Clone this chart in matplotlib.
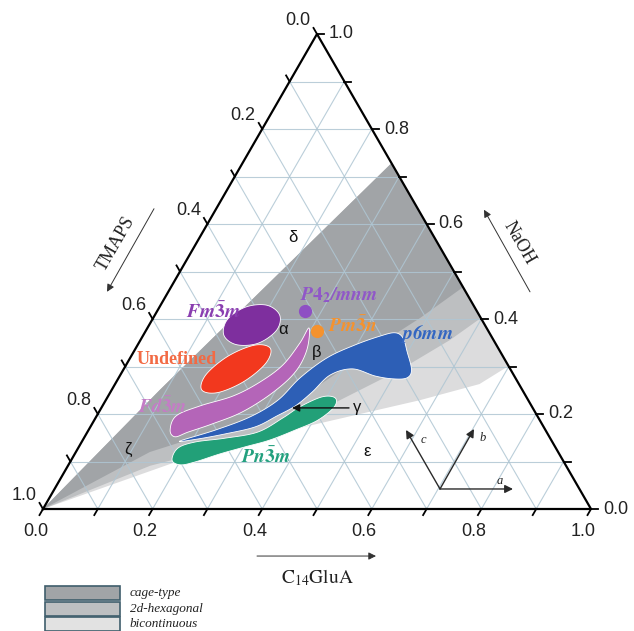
import numpy as np
import matplotlib.pyplot as plt
from matplotlib.patches import Polygon, Rectangle, FancyArrowPatch

plt.rcParams['mathtext.fontset'] = 'stix'

SQ = np.sqrt(3) / 2

# ternary data as (C14GluA, NaOH) pairs, TMAPS = 1 - C14GluA - NaOH
grid_vals = [0.1, 0.2, 0.3, 0.4, 0.5, 0.6, 0.7, 0.8, 0.9]
tick_vals = [0.0, 0.2, 0.4, 0.6, 0.8, 1.0]

# phase region boundaries (fan out from the TMAPS corner)
upper_edge = [(0.0, 0.0), (0.088, 0.251), (0.272, 0.728)]
cage_lower = [(0.0, 0.0), (0.135, 0.120), (0.284, 0.187), (0.374, 0.261), (0.430, 0.335), (0.487, 0.402), (0.533, 0.467)]
hex_lower = [(0.0, 0.0), (0.150, 0.091), (0.305, 0.145), (0.415, 0.219), (0.505, 0.293), (0.565, 0.356), (0.598, 0.402)]
bicont_lower = [(0.0, 0.0), (0.189, 0.097), (0.384, 0.171), (0.573, 0.229), (0.665, 0.263), (0.699, 0.301)]

# mesophase domains
fm3m = [(0.228, 0.408), (0.238, 0.376), (0.218, 0.349), (0.180, 0.346),
        (0.147, 0.366), (0.137, 0.399), (0.157, 0.425), (0.194, 0.429)]
undefined = [(0.246, 0.338), (0.253, 0.306), (0.232, 0.268), (0.196, 0.245),
             (0.164, 0.251), (0.156, 0.283), (0.177, 0.322), (0.214, 0.345)]
fd3m = [(0.295, 0.381), (0.314, 0.335), (0.316, 0.288), (0.296, 0.244), (0.261, 0.204),
        (0.219, 0.179), (0.184, 0.162), (0.165, 0.152), (0.149, 0.166), (0.145, 0.196),
        (0.178, 0.217), (0.228, 0.238), (0.262, 0.267), (0.286, 0.303), (0.294, 0.349)]
p6mm = [(0.178, 0.143), (0.231, 0.166), (0.281, 0.194), (0.314, 0.229), (0.331, 0.276),
        (0.359, 0.318), (0.396, 0.345), (0.433, 0.364), (0.457, 0.371), (0.477, 0.360),
        (0.499, 0.331), (0.526, 0.293), (0.526, 0.276), (0.502, 0.274), (0.466, 0.280),
        (0.417, 0.295), (0.383, 0.282), (0.368, 0.246), (0.352, 0.217), (0.329, 0.196),
        (0.301, 0.173), (0.253, 0.158), (0.207, 0.147)]
pn3m = [(0.184, 0.103), (0.182, 0.128), (0.207, 0.141), (0.257, 0.149), (0.311, 0.162),
        (0.342, 0.192), (0.361, 0.215), (0.391, 0.236), (0.416, 0.234), (0.424, 0.215),
        (0.408, 0.187), (0.377, 0.166), (0.341, 0.145), (0.304, 0.131), (0.265, 0.116),
        (0.228, 0.099), (0.204, 0.093)]
p42mnm_pt = (0.270, 0.417)
pm3n_pt = (0.313, 0.375)


def cart(pts):
    p = np.asarray(pts, dtype=float)
    return np.column_stack([p[:, 0] + p[:, 1] / 2, p[:, 1] * SQ])


def smooth(xy, n=14):
    m = len(xy)
    t = np.linspace(0, 1, n, endpoint=False)[:, None]
    out = []
    for i in range(m):
        p0, p1, p2, p3 = xy[i - 1], xy[i], xy[(i + 1) % m], xy[(i + 2) % m]
        out.append(0.5 * (2 * p1 + (-p0 + p2) * t + (2 * p0 - 5 * p1 + 4 * p2 - p3) * t ** 2
                          + (-p0 + 3 * p1 - 3 * p2 + p3) * t ** 3))
    return np.vstack(out)


def px(x, y):
    # layout helper: figure pixel -> axes data
    return ((x - 43) / 548, (509 - y) / 548)


fig = plt.figure(figsize=(6.34, 6.31), dpi=100)
ax = fig.add_axes([43 / 634, (631 - 509) / 631, 548 / 634, 475 / 631])
ax.set_xlim(0, 1)
ax.set_ylim(0, SQ)
ax.axis('off')

# gray regions
for lower, col in [(bicont_lower, '#dcdcdd'), (hex_lower, '#bdbfc1'), (cage_lower, '#a1a4a7')]:
    pts = list(lower) + list(upper_edge[::-1][:-1])
    ax.add_patch(Polygon(cart(pts), closed=True, facecolor=col, edgecolor='none', zorder=1))

# grid
for v in grid_vals:
    for seg in [[(v, 0), (v, 1 - v)], [(0, v), (1 - v, v)], [(1 - v, 0), (0, 1 - v)]]:
        xy = cart(seg)
        ax.plot(xy[:, 0], xy[:, 1], color='#afc6d3', lw=0.8, alpha=0.85, zorder=2)

# domains
for shape, col in [(fm3m, '#7e2f9e'), (undefined, '#f2381e'), (fd3m, '#b465b8'),
                   (p6mm, '#2d5fb6'), (pn3m, '#22a078')]:
    ax.add_patch(Polygon(smooth(cart(shape)), closed=True, facecolor=col,
                         edgecolor='white', lw=0.6, zorder=3))
pt = cart([p42mnm_pt, pm3n_pt])
ax.plot(pt[0, 0], pt[0, 1], 'o', color='#8e4fc4', ms=8.5, zorder=4)
ax.plot(pt[1, 0], pt[1, 1], 'o', color='#f5922e', ms=8.5, zorder=4)

# frame
frame = cart([(0, 0), (1, 0), (0, 1), (0, 0)])
ax.plot(frame[:, 0], frame[:, 1], color='black', lw=1.6, zorder=5, clip_on=False)

# ticks and tick labels
L = 7 / 548
tfont = dict(family='Liberation Sans', fontsize=13, color='#222222')
for v in [0.0] + grid_vals + [1.0]:
    major = round(v * 10) % 2 == 0
    # bottom: C14GluA
    x0, y0 = v, 0
    x1, y1 = x0 - 0.5 * L, y0 - SQ * L
    ax.plot([x0, x1], [y0, y1], color='black', lw=1.3, clip_on=False, zorder=5)
    if major:
        ax.text(x1 - 4 / 548, -14 / 548, f'{v:.1f}', ha='center', va='top', **tfont)
    # right: NaOH
    x0, y0 = (1 - v) + v / 2, v * SQ
    x1, y1 = x0 + L, y0
    ax.plot([x0, x1], [y0, y1], color='black', lw=1.3, clip_on=False, zorder=5)
    if major:
        ax.text(x1 + 5 / 548, y1, f'{v:.1f}', ha='left', va='center', **tfont)
    # left: TMAPS
    x0, y0 = (1 - v) / 2, (1 - v) * SQ
    x1, y1 = x0 - 0.5 * L, y0 + SQ * L
    ax.plot([x0, x1], [y0, y1], color='black', lw=1.3, clip_on=False, zorder=5)
    if major:
        ax.text(x1 - 3 / 548, y1 + 7 / 548, f'{v:.1f}', ha='right', va='center', **tfont)

# axis arrows and names
def arrow(p0, p1, lw=0.9, ms=11, color='#333333'):
    ax.add_patch(FancyArrowPatch(px(*p0), px(*p1), arrowstyle='-|>', mutation_scale=ms,
                                 lw=lw, color=color, clip_on=False, zorder=6,
                                 shrinkA=0, shrinkB=0))

sfont = dict(family='Liberation Serif', fontsize=13, color='#222222')
arrow((154, 209), (107, 292), lw=0.7)
ax.text(*px(116, 244), 'TMAPS', rotation=60, ha='center', va='center', **sfont)
arrow((530, 292), (484, 210), lw=0.7)
ax.text(*px(519, 243), 'NaOH', rotation=-60, ha='center', va='center', **sfont)
arrow((257, 556), (376, 556), lw=0.7)
ax.text(*px(317, 578), r'$\mathrm{C_{14}GluA}$', ha='center', va='center', fontsize=14, color='#222222')

# lattice vectors
arrow((440, 489), (513, 489), lw=1.0, ms=12, color='#2a2a2a')
arrow((440, 489), (474, 429), lw=1.0, ms=12, color='#2a2a2a')
arrow((440, 489), (406, 430), lw=1.0, ms=12, color='#2a2a2a')
ifont = dict(family='Liberation Serif', style='italic', fontsize=9, color='#222222')
ax.text(*px(500, 481), 'a', ha='center', va='center', **ifont)
ax.text(*px(483, 438), 'b', ha='center', va='center', **ifont)
ax.text(*px(423, 440), 'c', ha='center', va='center', **ifont)

# gamma pointer
arrow((349, 408), (292, 408), lw=1.0, ms=11, color='#111111')

# domain labels
lab = [(213, 312, r'$\mathbfit{Fm}\bar{\mathbf{3}}\mathbfit{m}$', '#8a3eb0', 'center'),
       (162, 407, r'$\mathbfit{Fd}\bar{\mathbf{3}}\mathbfit{m}$', '#c47cc6', 'center'),
       (266, 457, r'$\mathbfit{Pn}\bar{\mathbf{3}}\mathbfit{m}$', '#22a07e', 'center'),
       (328, 326, r'$\mathbfit{Pm}\bar{\mathbf{3}}\mathbfit{n}$', '#f5922e', 'left'),
       (300, 295, r'$\mathbfit{P}\mathbf{4}_{\mathbf{2}}\mathbfit{/mnm}$', '#9057c8', 'left'),
       (427, 334, r'$\mathbfit{p6mm}$', '#3366c2', 'center')]
for x, y, s, c, ha in lab:
    ax.text(*px(x, y), s, color=c, fontsize=14, ha=ha, va='center', zorder=7)
ax.text(*px(177, 360), 'Undefined', family='Liberation Serif', weight='bold', fontsize=13,
        color='#f26a44', ha='center', va='center', zorder=7)

gfont = dict(family='Liberation Sans', fontsize=12, color='#111111', ha='center', va='center', zorder=7)
for x, y, s in [(283, 330, 'α'), (317, 353, 'β'), (357, 408, 'γ'),
                (293, 238, 'δ'), (367, 452, 'ε'), (128, 450, 'ζ')]:
    ax.text(*px(x, y), s, **gfont)

# legend
def fp(x, y):
    return (x / 634, 1 - y / 631)

for top, col, name in [(586, '#a1a4a7', 'cage-type'), (602, '#bdbfc1', '2d-hexagonal'),
                       (617, '#e2e2e2', 'bicontinuous')]:
    fig.add_artist(Rectangle(fp(45, top + 14), 75 / 634, 14 / 631, transform=fig.transFigure,
                             facecolor=col, edgecolor='#3f5e6c', lw=1.2))
    fig.text(*fp(130, top + 7), name, family='Liberation Serif', style='italic',
             fontsize=9.5, color='#222222', ha='left', va='center')

fig.savefig('out.png', dpi=100)
